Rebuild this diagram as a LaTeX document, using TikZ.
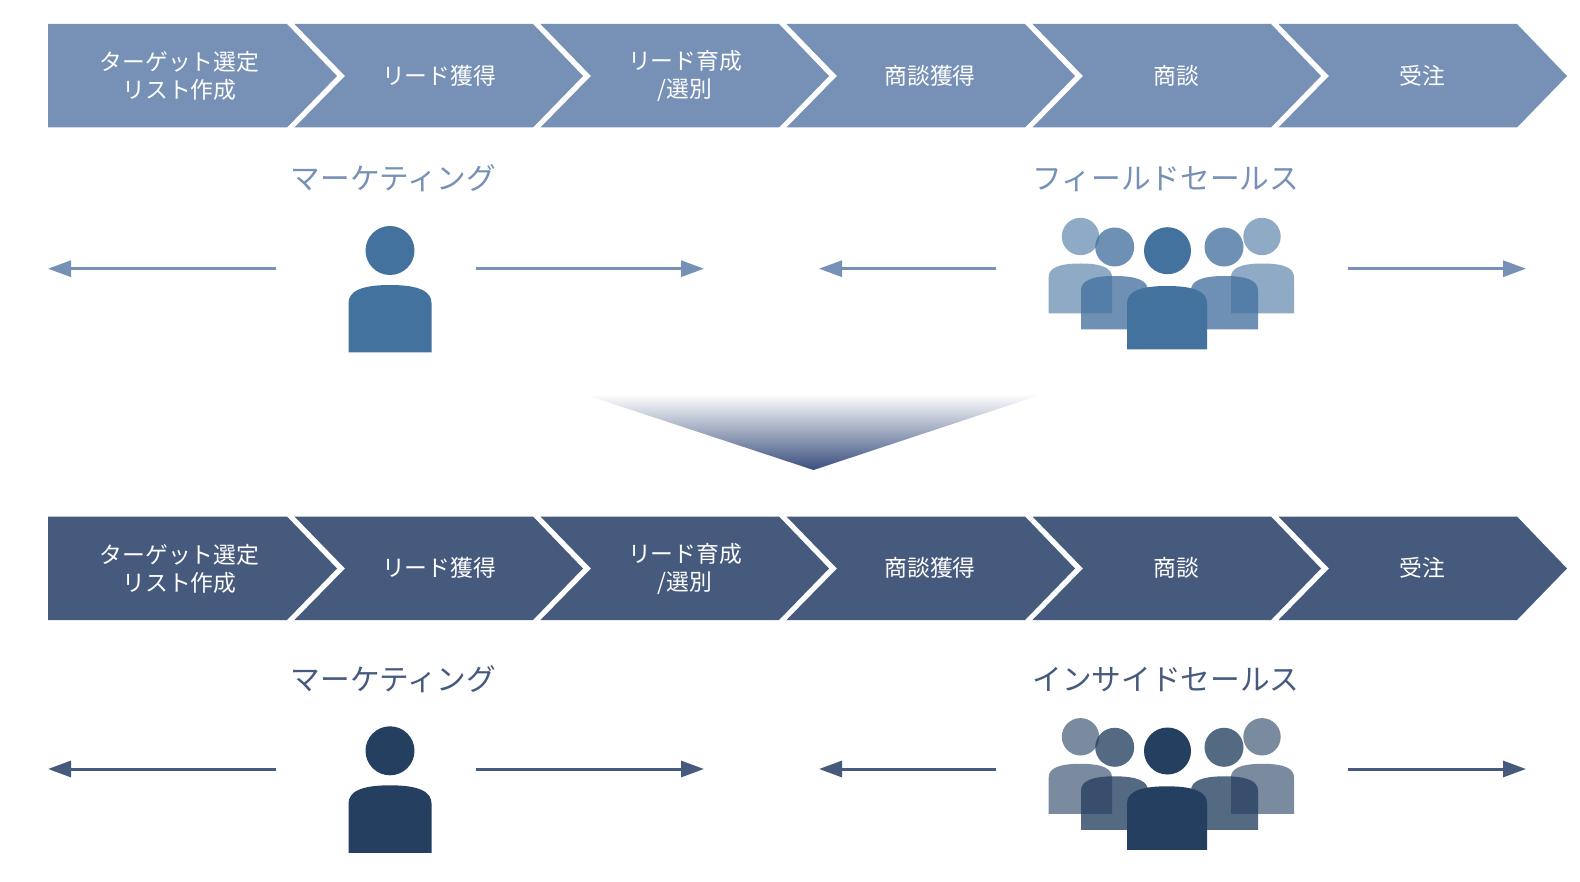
\documentclass[tikz,border=0pt]{standalone}
\usepackage{fontspec}
\setmainfont{Noto Sans CJK JP}
\usetikzlibrary{arrows.meta}
\definecolor{chevA}{HTML}{7790B6}
\definecolor{chevB}{HTML}{465A7D}
\definecolor{figA}{HTML}{44729F}
\definecolor{figB}{HTML}{243F5F}
\definecolor{wedge}{HTML}{3A4F7E}
\tikzset{
  chevlabel/.style={text=white,align=center,inner sep=0pt,font=\fontsize{22.8}{28}\selectfont},
  roletitle/.style={inner sep=0pt,font=\fontsize{29.7}{34}\selectfont},
  flow/.style={line width=3pt,-{Triangle[length=23pt,width=16pt]}},
}
% #1 left, #2 right, #3 top, #4 bottom
\newcommand{\BodyShape}[5]{%
  \pgfmathsetmacro{\cc}{(#1+#2)/2}%
  \pgfmathsetmacro{\ss}{#3+(#4-#3)*0.27}%
  \pgfmathsetmacro{\ca}{#3+(\ss-#3)*0.35}%
  \pgfmathsetmacro{\cb}{#1+(\cc-#1)*0.30}%
  \pgfmathsetmacro{\cd}{#2-(#2-\cc)*0.30}%
  \fill[#5] (#1,#4) -- (#1,\ss) .. controls (#1,\ca) and (\cb,#3) .. (\cc,#3)
     .. controls (\cd,#3) and (#2,\ca) .. (#2,\ss) -- (#2,#4) -- cycle;}
% #1 prefix, #2 fill colour, #3 figure colour, #4 lower title, #5 chevron shift, #6 figure shift
\newcommand{\FlowRow}[6]{%
  \begin{scope}[shift={(0,#5)}]
    \fill[#2] (48,24) -- (287,24) -- (337,76) -- (287,127.5) -- (48,127.5) -- cycle;
    \foreach \i in {0,1,2,3} {
      \fill[#2] ({294.5+246*\i},24) -- ({533+246*\i},24) -- ({583+246*\i},76) -- ({533+246*\i},127.5)
        -- ({294.5+246*\i},127.5) -- ({345+246*\i},76) -- cycle;
    }
    \fill[#2] (1278.5,24) -- (1517,24) -- (1567,76) -- (1517,127.5) -- (1278.5,127.5) -- (1329,76) -- cycle;
    \node[chevlabel] (#1c1) at (179.5,76) {ターゲット選定\\リスト作成};
    \node[chevlabel] (#1c2) at (439,75.5) {リード獲得};
    \node[chevlabel] (#1c3) at (685,76) {リード育成\\/選別};
    \node[chevlabel] (#1c4) at (930,75.5) {商談獲得};
    \node[chevlabel] (#1c5) at (1176,75.5) {商談};
    \node[chevlabel] (#1c6) at (1422,75.5) {受注};
  \end{scope}
  \begin{scope}[shift={(0,#6)}]
    \node[roletitle,text=#2] (#1m) at (393.5,178.5) {マーケティング};
    \node[roletitle,text=#2] (#1f) at (1166,179) {#4};
    % single person
    \fill[#3] (390,250.5) circle (24.5);
    \BodyShape{348.5}{431.5}{285}{352.5}{#3}
    % group
    \fill[#3,opacity=.6] (1080.5,236.5) circle (18.7);
    \fill[#3,opacity=.6] (1262,236.5) circle (18.7);
    \BodyShape{1048.7}{1112}{263.5}{313.5}{#3,opacity=.6}
    \BodyShape{1231}{1294}{263.5}{313.5}{#3,opacity=.6}
    \fill[#3,opacity=.78] (1114.7,247) circle (19.5);
    \fill[#3,opacity=.78] (1224,247) circle (19.5);
    \BodyShape{1081}{1148}{276}{329.5}{#3,opacity=.78}
    \BodyShape{1191}{1258}{276}{329.5}{#3,opacity=.78}
    \fill[#3] (1167.5,250.7) circle (23.5);
    \BodyShape{1127}{1207}{286}{349.5}{#3}
    % connectors
    \coordinate (#1a1s) at (276,268.7); \coordinate (#1a1e) at (48,268.7);
    \coordinate (#1a2s) at (476,268.7); \coordinate (#1a2e) at (704,268.7);
    \coordinate (#1a3s) at (996,268.7); \coordinate (#1a3e) at (819,268.7);
    \coordinate (#1a4s) at (1348,268.7); \coordinate (#1a4e) at (1526,268.7);
    \draw[flow,draw=#2] (#1a1s) -- (#1a1e);
    \draw[flow,draw=#2] (#1a2s) -- (#1a2e);
    \draw[flow,draw=#2] (#1a3s) -- (#1a3e);
    \draw[flow,draw=#2] (#1a4s) -- (#1a4e);
  \end{scope}}
\begin{document}
\begin{tikzpicture}[x=1pt,y=-1pt]
  \useasboundingbox (0,0) rectangle (1580,882);
  \fill[white] (0,0) rectangle (1580,882);
  \FlowRow{u}{chevA}{figA}{フィールドセールス}{0}{0}
  \shade[top color=white,bottom color=wedge] (583,394) -- (1043,394) -- (813.5,470) -- cycle;
  \FlowRow{l}{chevB}{figB}{インサイドセールス}{492.5}{500.3}
\end{tikzpicture}
\end{document}
